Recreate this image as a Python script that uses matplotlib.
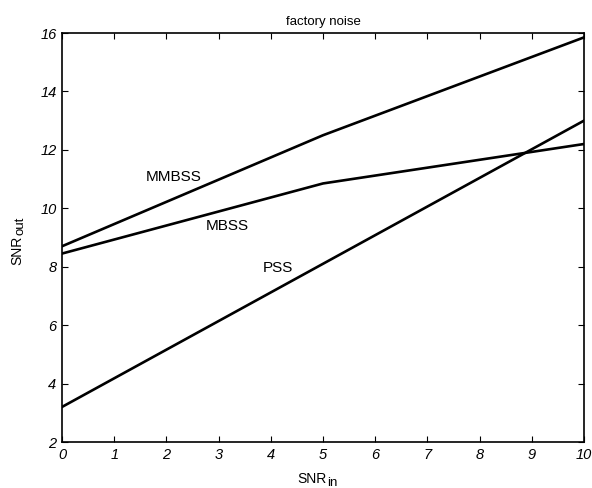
import matplotlib
matplotlib.use("Agg")
import matplotlib.pyplot as plt

snr_in = [0, 5, 10]
mmbss = [8.7, 12.5, 15.85]
mbss = [8.45, 10.85, 12.2]
pss = [3.2, 8.1, 13.0]

x_ticks = list(range(0, 11))
y_ticks = [2, 4, 6, 8, 10, 12, 14, 16]

plt.rcParams['font.family'] = ['Liberation Sans', 'DejaVu Sans']

fig = plt.figure(figsize=(5.92, 4.88), dpi=100)
ax = fig.add_axes([62 / 592, 46 / 488, 522 / 592, 409 / 488])

for ys in (mmbss, mbss, pss):
    ax.plot(snr_in, ys, color='black', linewidth=1.9)

ax.set_xlim(0, 10)
ax.set_ylim(2, 16)
ax.set_xticks(x_ticks)
ax.set_yticks(y_ticks)
ax.tick_params(direction='in', top=True, right=True, length=4, width=0.8,
               labelsize=10.5, pad=4)
for lbl in ax.get_xticklabels() + ax.get_yticklabels():
    lbl.set_style('italic')
for s in ax.spines.values():
    s.set_linewidth(1.2)

ax.text(1.6, 11.07, 'MMBSS', fontsize=11, va='center', ha='left')
ax.text(2.75, 9.4, 'MBSS', fontsize=11, va='center', ha='left')
ax.text(3.85, 7.95, 'PSS', fontsize=11, va='center', ha='left')

ax.set_title('factory noise', fontsize=9.5, pad=6)

# axis labels with MATLAB-style subscripts (near full size, slightly lowered)
ax.annotate('SNR', xy=(0.5, 0), xycoords='axes fraction',
            xytext=(2.9, -29.5), textcoords='offset points',
            ha='right', va='baseline', fontsize=10)
ax.annotate('in', xy=(0.5, 0), xycoords='axes fraction',
            xytext=(3.1, -32.0), textcoords='offset points',
            ha='left', va='baseline', fontsize=9.5)
ax.annotate('SNR', xy=(0, 0.5), xycoords='axes fraction',
            xytext=(-29.0, 1.5), textcoords='offset points',
            ha='right', va='baseline', rotation=90, rotation_mode='anchor',
            fontsize=10)
ax.annotate('out', xy=(0, 0.5), xycoords='axes fraction',
            xytext=(-27.4, 1.9), textcoords='offset points',
            ha='left', va='baseline', rotation=90, rotation_mode='anchor',
            fontsize=9.5)

fig.savefig('out.png', dpi=100)
